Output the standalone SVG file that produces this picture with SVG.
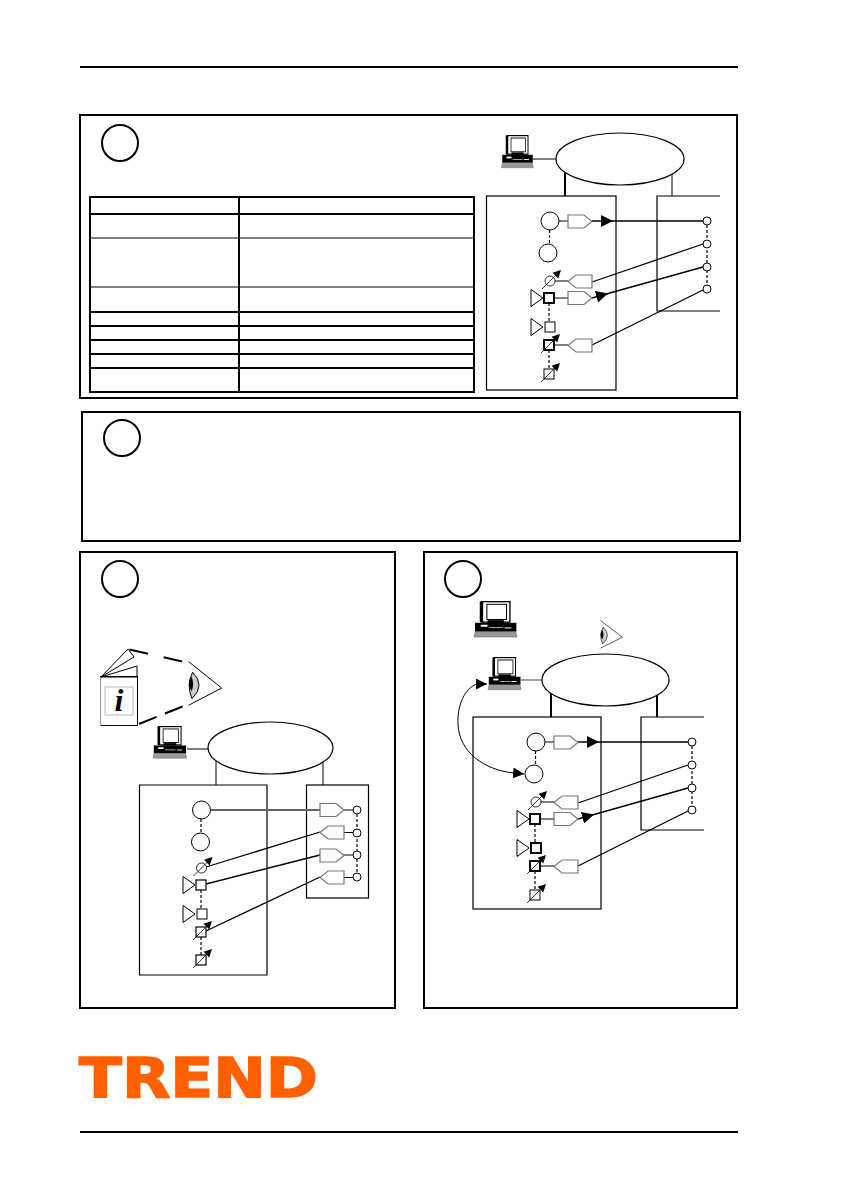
<svg xmlns="http://www.w3.org/2000/svg" width="841" height="1191" viewBox="0 0 841 1191">
<style>
.b{fill:none;stroke:#000;stroke-width:2}
.t{fill:none;stroke:#000;stroke-width:1}
.box{fill:none;stroke:#000;stroke-width:1.2}
.w{fill:#fff;stroke:#000;stroke-width:1.2}
.thin{fill:#fff;stroke:#000;stroke-width:1}
.thick{fill:#fff;stroke:#000;stroke-width:2}
.tag{fill:#fff;stroke:#777;stroke-width:1.2}
.dash{fill:none;stroke:#000;stroke-width:1.2;stroke-dasharray:3 2}
.c{fill:none;stroke:#000;stroke-width:1.3}
.g{fill:none;stroke:#666;stroke-width:2}
.mm{marker-mid:url(#ah)}
</style>
<defs>
<marker id="ah" markerUnits="userSpaceOnUse" markerWidth="12" markerHeight="12" viewBox="0 0 10 10" refX="10" refY="5" orient="auto"><path d="M0,0L10,5L0,10Z" fill="#000"/></marker>
<marker id="ah2" markerUnits="userSpaceOnUse" markerWidth="11" markerHeight="11" viewBox="0 0 10 10" refX="10" refY="5" orient="auto-start-reverse"><path d="M0,0L10,5L0,10Z" fill="#000"/></marker>
<path id="tagR" d="M0,-6.5H16L24,0L16,6.5H0Z"/>
<path id="tagL" d="M24,-6.5H8L0,0L8,6.5H24Z"/>
<path id="tri" d="M-18,-8.5V8.5L-6,0Z" fill="#fff" stroke="#000" stroke-width="1"/>
<rect id="sq" x="-5" y="-5" width="10" height="10"/>
<g id="arrowUp"><path d="M-8,8L8,-8" fill="none" stroke="#000" stroke-width="0.8"/><path d="M11,-11L8.2,-2.6L2.6,-8.2Z" fill="#000"/></g>
<g id="valve"><circle r="5" fill="#fff" stroke="#000" stroke-width="0.8"/><use href="#arrowUp"/></g>
<g id="pc">
<path d="M4,92H123L127,109H0Z" fill="#999" stroke="#777" stroke-width="2"/>
<rect x="22" y="2" width="84" height="62" fill="#fff" stroke="#000" stroke-width="4"/>
<rect x="38" y="10" width="58" height="46" fill="#fff" stroke="#000" stroke-width="3"/>
<path d="M22,2V64" stroke="#000" stroke-width="10"/>
<rect x="40" y="58" width="48" height="8" fill="#000"/>
<rect x="3" y="66" width="122" height="26" fill="#000"/>
<rect x="20" y="72" width="20" height="6" fill="#fff"/>
<rect x="45" y="80" width="40" height="2" fill="#fff"/>
<rect x="90" y="80" width="20" height="3" fill="#fff"/>
</g>
<g id="eye">
<path d="M2,2L102,82L2,134" fill="none" stroke="#000" stroke-width="3"/>
<path d="M14,34Q-6,72 12,114Q54,74 14,34Z" fill="#ccc" stroke="#000" stroke-width="3"/>
<path d="M11,48Q-6,68 11,92Q20,70 11,48Z" fill="#000"/>
</g>
</defs>
<rect width="841" height="1191" fill="#fff"/>

<g id="rules"><path class="b" d="M80,67H738"/><path class="b" d="M80,1132H738"/></g>
<g id="panel-frames">
<rect class="b" x="80" y="115" width="657" height="283"/>
<rect class="b" x="82" y="412" width="658" height="129"/>
<rect class="b" x="80" y="552" width="315" height="456"/>
<rect class="b" x="424" y="552" width="313" height="456"/>
</g>
<g id="step-1"><circle class="b" cx="120" cy="143" r="18"/></g>
<g id="step-2"><circle class="b" cx="122" cy="438" r="18"/></g>
<g id="step-3"><circle class="b" cx="120" cy="579" r="18"/></g>
<g id="step-4"><circle class="b" cx="463" cy="579" r="18"/></g>

<g id="table">
<rect class="b" x="90" y="197" width="384" height="195"/>
<path class="b" d="M239,197V392M90,214H474M90,312H474M90,326H474M90,340H474M90,354H474M90,368H474"/>
<path class="t" d="M90,238H474M90,287H474"/>
</g>

<!-- Panel 1 schematic -->
<g id="panel1">
<g id="p1-links"><path class="b" d="M565,172V196"/><path class="t" d="M672,174V196"/><path class="t" d="M533,159H556"/></g>
<g id="p1-outstation"><rect class="box" x="486.5" y="196" width="129.5" height="194"/></g>
<g id="p1-device"><path class="box" d="M720,196H657V311H720"/></g>
<g id="p1-connectors">
<path class="dash" d="M549.500,230V244M549,303V322M549,350V369M707,225V285"/>
<path class="t" d="M559,221H568M555,281H568M554,298H568M554,345H568"/>
<path class="c mm" d="M592,221L613,221L703,221"/>
<path class="c" d="M592,282L703,244"/>
<path class="c mm" d="M592,298L608,293.500L703,267"/>
<path class="c" d="M592,345L703,290"/>
</g>
<g id="p1-network"><ellipse class="w" cx="620" cy="159" rx="64" ry="26"/></g>
<g id="p1-pc"><use href="#pc" transform="translate(501.500,135) scale(.25,.3)"/></g>
<g id="p1-a"><circle class="thin" cx="550" cy="221" r="9"/></g>
<g id="p1-b"><circle class="thin" cx="548" cy="253" r="9"/></g>
<g id="p1-valve"><use href="#valve" x="550" y="281"/></g>
<g id="p1-sq1"><use href="#tri" x="549" y="298"/><use href="#sq" class="thick" x="549" y="298"/></g>
<g id="p1-sq2"><use href="#tri" x="549" y="327"/><use href="#sq" class="thin" x="550" y="327"/></g>
<g id="p1-sq3"><use href="#sq" class="thick" x="549" y="345"/><use href="#arrowUp" x="549" y="345"/></g>
<g id="p1-sq4"><use href="#sq" class="thin" x="549" y="374"/><use href="#arrowUp" x="549" y="374"/></g>
<g id="p1-tags">
<use href="#tagR" class="tag" x="568" y="221.500"/><use href="#tagL" class="tag" x="568" y="281.500"/>
<use href="#tagR" class="tag" x="568" y="298"/><use href="#tagL" class="tag" x="568" y="345.500"/>
</g>
<g id="p1-points">
<circle class="thin" cx="707" cy="221" r="4"/><circle class="thin" cx="707" cy="244" r="4"/><circle class="thin" cx="707" cy="267" r="4"/><circle class="thin" cx="707" cy="289" r="4"/>
</g>
</g>

<!-- Panel 3 -->
<g id="panel3">
<g id="book">
<path class="t" d="M101,677L128,649L134,657L101,677L137,666V677L101,677"/>
<rect class="t" x="100.500" y="676.500" width="37" height="49"/>
<path d="M100.500,677V726" stroke="#999" stroke-width="1"/>
<rect x="105" y="687" width="28" height="28" fill="none" stroke="#bbb" stroke-width="1"/>
<text x="119" y="711" text-anchor="middle" font-family="'Liberation Serif',serif" font-weight="bold" font-style="italic" font-size="32">i</text>
</g>
<g id="sight-lines"><path class="b" d="M129.500,649.500L184,662" stroke-dasharray="19 16"/><path class="b" d="M139,724L185,705.500" stroke-dasharray="19 9"/></g>
<g id="p3-eye"><use href="#eye" transform="translate(188,661) scale(.33)"/></g>
<g id="p3-links"><path class="t" d="M216,761V785M323,762V785M187,749H208"/></g>
<g id="p3-outstation"><path class="box" d="M139.500,785H267V975H139.500Z"/></g>
<g id="p3-device"><rect class="box" x="306.500" y="785" width="62" height="113"/></g>
<g id="p3-connectors">
<path class="dash" d="M201,819V833M201,890V909M201,937V955M357,814V873"/>
<path class="g" d="M211,810H320"/>
<path class="t" d="M342,810H353M343,832.500H353M342,855H353M343,877.500H353"/>
<path class="c" d="M320,832L206,867M320,855L206,884M320,877L206,931"/>
</g>
<g id="p3-network"><ellipse class="w" cx="270.500" cy="748" rx="62.500" ry="26"/></g>
<g id="p3-pc"><use href="#pc" transform="translate(153,726) scale(.265,.295)"/></g>
<g id="p3-a"><circle class="thin" cx="201.500" cy="810" r="9"/></g>
<g id="p3-b"><circle class="thin" cx="200.500" cy="842" r="9"/></g>
<g id="p3-valve"><use href="#valve" x="201.500" y="868"/></g>
<g id="p3-sq1"><use href="#tri" x="201" y="885"/><use href="#sq" class="w" x="201" y="885"/></g>
<g id="p3-sq2"><use href="#tri" x="201" y="914"/><use href="#sq" class="thin" x="202" y="914"/></g>
<g id="p3-sq3"><use href="#sq" class="w" x="201" y="932"/><use href="#arrowUp" x="201" y="932"/></g>
<g id="p3-sq4"><use href="#sq" class="w" x="201" y="960"/><use href="#arrowUp" x="201" y="960"/></g>
<g id="p3-tags">
<use href="#tagR" class="tag" x="320" y="810"/><use href="#tagL" class="tag" x="320" y="832.500"/>
<use href="#tagR" class="tag" x="320" y="855.500"/><use href="#tagL" class="tag" x="320" y="877.500"/>
</g>
<g id="p3-points">
<circle class="thin" cx="357" cy="810" r="4"/><circle class="thin" cx="357" cy="833" r="4"/><circle class="thin" cx="357" cy="855" r="4"/><circle class="thin" cx="357" cy="877" r="4"/>
</g>
</g>

<!-- Panel 4 -->
<g id="panel4">
<g id="p4-pc-top"><use href="#pc" transform="translate(474,601) scale(.339,.33)"/></g>
<g id="p4-eye"><use href="#eye" transform="translate(600,620) scale(.22,.21)"/></g>
<g id="p4-links"><path class="b" d="M551,693V717M657,695V717"/><path d="M521,680H543" stroke="#666" stroke-width="1.2"/></g>
<g id="p4-curve"><path class="t" d="M487,684L477,684C465,688 457,705 458,724C459,752 484,770 514,773L524,774" marker-start="url(#ah2)" marker-end="url(#ah2)"/></g>
<g id="p4-outstation"><rect class="box" x="473" y="717" width="128" height="192"/></g>
<g id="p4-device"><path class="box" d="M704,717H641V830H704"/></g>
<g transform="translate(-14,521)">
<g id="p4-connectors">
<path class="dash" d="M549.500,230V244M549,303V322M549,350V369M706,225V285"/>
<path class="t" d="M559,221H568M555,281H568M554,298H568M554,345H568"/>
<path class="c mm" d="M592,221L613,221L702,221"/>
<path class="c" d="M592,282L702,244"/>
<path class="c mm" d="M592,298L608,293.500L702,267"/>
<path class="c" d="M592,345L702,290"/>
</g>
<g id="p4-a"><circle class="thin" cx="550" cy="221" r="9"/></g>
<g id="p4-b"><circle class="thin" cx="548" cy="253" r="9"/></g>
<g id="p4-valve"><use href="#valve" x="550" y="281"/></g>
<g id="p4-sq1"><use href="#tri" x="549" y="298"/><use href="#sq" class="thick" x="549" y="298"/></g>
<g id="p4-sq2"><use href="#tri" x="549" y="327"/><use href="#sq" class="thick" x="550" y="327"/></g>
<g id="p4-sq3"><use href="#sq" class="thick" x="549" y="345"/><use href="#arrowUp" x="549" y="345"/></g>
<g id="p4-sq4"><use href="#sq" class="thin" x="549" y="374"/><use href="#arrowUp" x="549" y="374"/></g>
<g id="p4-tags">
<use href="#tagR" class="tag" x="568" y="221.500"/><use href="#tagL" class="tag" x="568" y="281.500"/>
<use href="#tagR" class="tag" x="568" y="298"/><use href="#tagL" class="tag" x="568" y="345.500"/>
</g>
<g id="p4-points">
<circle class="thin" cx="706" cy="221" r="4"/><circle class="thin" cx="706" cy="244" r="4"/><circle class="thin" cx="706" cy="267" r="4"/><circle class="thin" cx="706" cy="289" r="4"/>
</g>
</g>
<g id="p4-network"><ellipse class="w" cx="605.500" cy="680" rx="63.500" ry="26"/></g>
<g id="p4-pc"><use href="#pc" transform="translate(488,657) scale(.26,.3)"/></g>
</g>

<g id="logo"><text x="79" y="1096.500" font-family="'DejaVu Sans',sans-serif" font-weight="bold" font-size="55" textLength="239" lengthAdjust="spacingAndGlyphs" fill="#ff6000" stroke="#ff6000" stroke-width="1.5">TREND</text></g>
</svg>
